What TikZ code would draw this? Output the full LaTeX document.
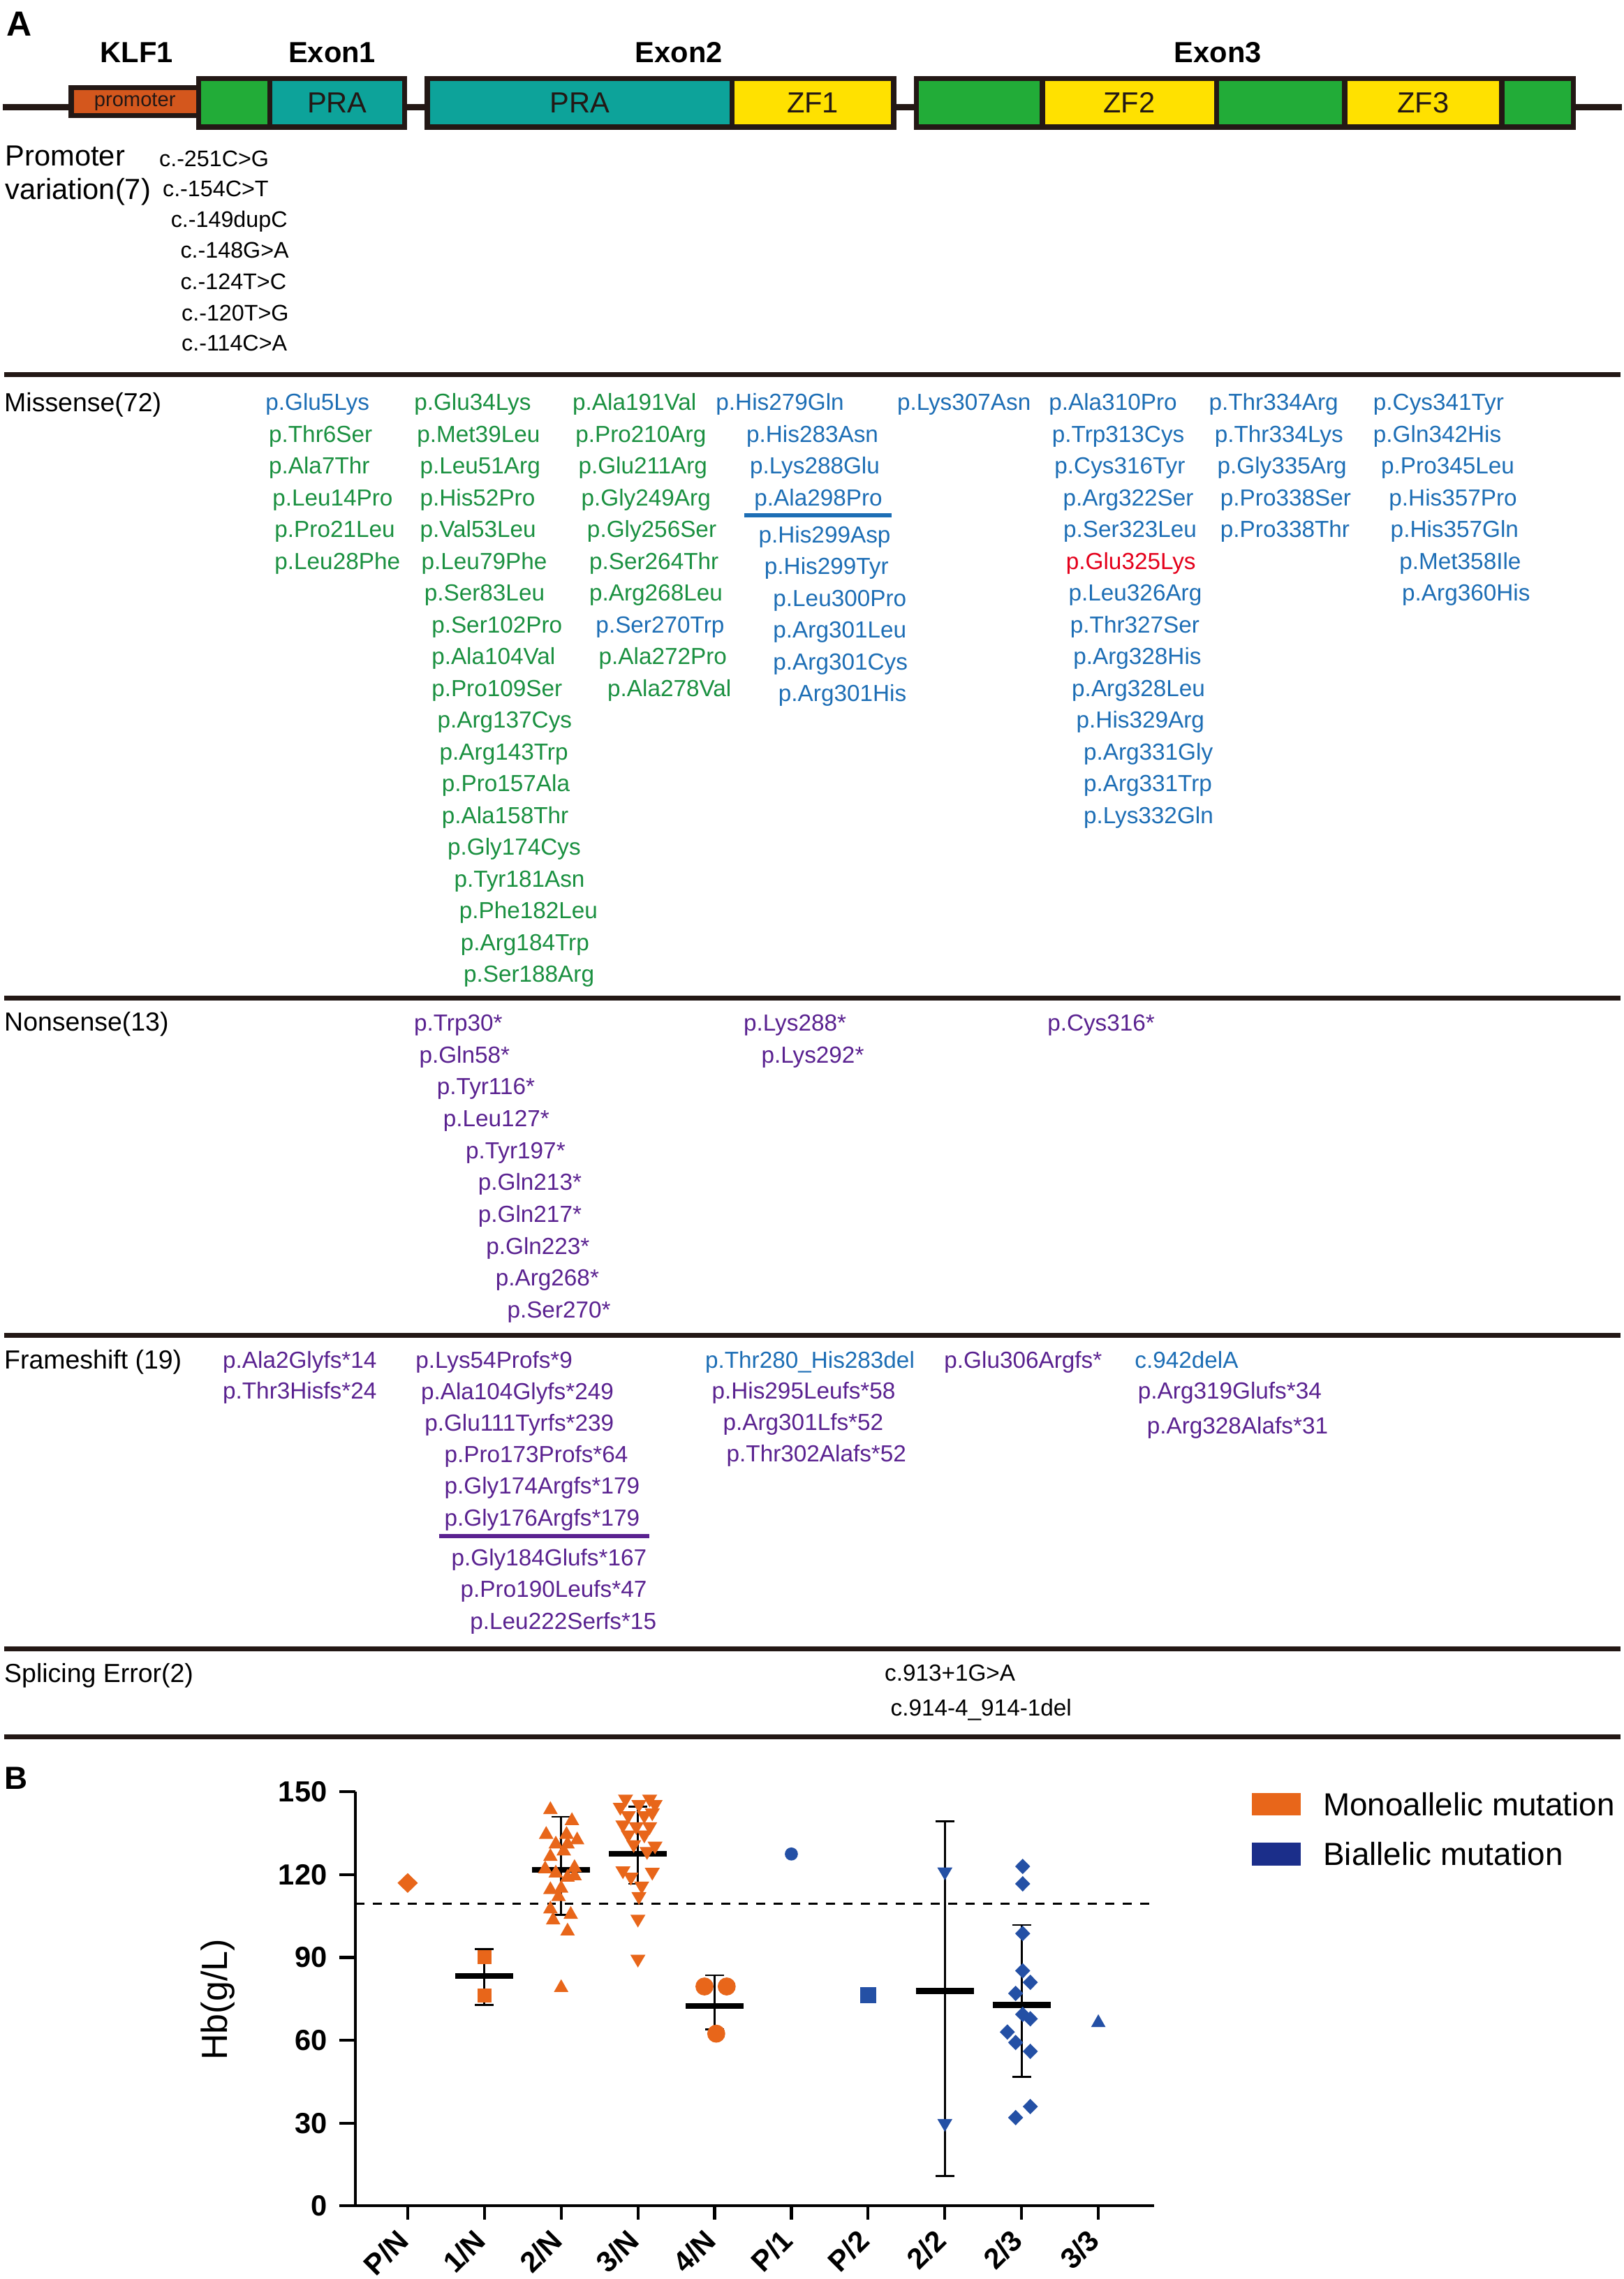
\documentclass[tikz,border=0pt]{standalone}
\usepackage{fontspec}
\setmainfont{Liberation Sans}
\usetikzlibrary{positioning}

\definecolor{kdark}{HTML}{231815}
\definecolor{kprom}{HTML}{D4571D}
\definecolor{kgreen}{HTML}{22AC38}
\definecolor{kteal}{HTML}{0DA39A}
\definecolor{kyellow}{HTML}{FFE100}
\definecolor{mblue}{HTML}{1D6EB5}
\definecolor{mgreen}{HTML}{1A9040}
\definecolor{mpurple}{HTML}{5A2290}
\definecolor{mred}{HTML}{E4001B}
\definecolor{mono}{HTML}{E8661A}
\definecolor{bial}{HTML}{1B2E8A}
\definecolor{bidot}{HTML}{2450A5}

\tikzset{
  triup/.pic  = {\fill (-5pt,-3.8pt) -- (5pt,-3.8pt) -- (0pt,5pt) -- cycle;},
  tridn/.pic  = {\fill (-5.2pt,3.8pt) -- (5.2pt,3.8pt) -- (0pt,-5pt) -- cycle;},
  dmd/.pic    = {\fill (0pt,5.3pt) -- (5.2pt,0pt) -- (0pt,-5.3pt) -- (-5.2pt,0pt) -- cycle;},
  bigdmd/.pic = {\fill (0pt,6.8pt) -- (7pt,0pt) -- (0pt,-6.8pt) -- (-7pt,0pt) -- cycle;},
  sq/.pic     = {\fill (-4.8pt,-4.8pt) rectangle (4.8pt,4.8pt);},
  bigsq/.pic  = {\fill (-5.6pt,-5.6pt) rectangle (5.6pt,5.6pt);},
  dot/.pic    = {\fill (0pt,0pt) circle (6.2pt);},
  smalldot/.pic = {\fill (0pt,0pt) circle (4.5pt);}
}

\begin{document}
\begin{tikzpicture}[x=1pt, y=-1pt,
  every node/.style = {inner sep=0pt, outer sep=0pt},
  mut/.style    = {anchor=base west, font=\fontsize{16}{19}\selectfont},
  cvar/.style   = {anchor=base west, font=\fontsize{15.5}{18}\selectfont},
  cat/.style    = {anchor=base west, font=\fontsize{18}{21}\selectfont},
  head/.style   = {anchor=base, font=\fontsize{20}{24}\selectfont\bfseries},
  panel/.style  = {anchor=base west, font=\fontsize{24}{28}\selectfont\bfseries},
  dom/.style    = {draw=kdark, line width=3.6pt, minimum height=33.3pt,
                   font=\fontsize{20}{24}\selectfont, text=kdark},
  rowline/.style = {draw=kdark, line width=3.4pt},
  ul/.style     = {line width=3.2pt},
  axis/.style   = {draw=black, line width=2pt},
  ytick/.style  = {anchor=east, font=\fontsize{20}{24}\selectfont\bfseries},
  xtick/.style  = {anchor=east, rotate=45, font=\fontsize{20}{24}\selectfont\bfseries},
  errbar/.style = {draw=black, line width=1.3pt},
  meanbar/.style = {draw=black, line width=4pt},
  refline/.style = {draw=black, line width=1.3pt, dash pattern=on 6.2pt off 5.8pt},
  lgbox/.style  = {minimum width=33.6pt, minimum height=15.5pt},
  lgtxt/.style  = {font=\fontsize{22}{26}\selectfont}
                    ]
\useasboundingbox (0,0) rectangle (1117,1568);

% ---- A: gene
\node[panel] (pA) at (4.4,24.7) {A};
\coordinate (bbL) at (1.8,73.7);
\coordinate (bbR) at (1116,73.7);
\draw[draw=kdark, line width=4pt] (bbL) -- (bbR);

\node[dom, fill=kprom, minimum width=87.8pt, minimum height=19.1pt,
      font=\fontsize{14}{16}\selectfont] (prom) at (92.8,69.95) {promoter};
\node[dom, fill=kgreen, minimum width=48.9pt] (e1g) at (161.15,70.75) {};
\node[dom, fill=kteal, minimum width=92.7pt, right=0pt of e1g] (e1p) {PRA};
\node[dom, fill=kteal, minimum width=209.6pt] (e2p) at (398.8,70.75) {PRA};
\node[dom, fill=kyellow, minimum width=111.2pt, right=0pt of e2p] (e2z) {ZF1};
\node[dom, fill=kgreen, minimum width=86.5pt] (e3g1) at (673.85,70.75) {};
\node[dom, fill=kyellow, minimum width=119.9pt, right=0pt of e3g1] (e3z2) {ZF2};
\node[dom, fill=kgreen, minimum width=88.2pt, right=0pt of e3z2] (e3g2) {};
\node[dom, fill=kyellow, minimum width=108.1pt, right=0pt of e3g2] (e3z3) {ZF3};
\node[dom, fill=kgreen, minimum width=49.3pt, right=0pt of e3z3] (e3g3) {};

\node[head] (klf) at (94,43) {KLF1};
\node[head] (ex1) at (228.5,43) {Exon1};
\node[head] (ex2) at (467,43) {Exon2};
\node[head] (ex3) at (838,43) {Exon3};

% promoter variation
\node[anchor=base west, font=\fontsize{20}{23}\selectfont] (pv1) at (3.7,114) {Promoter};
\node[anchor=base west, font=\fontsize{20}{23}\selectfont] (pv2) at (3.7,137) {variation(7)};
\foreach \x/\y/\t [count=\i] in {109.6/114.4/c.-251C>G, 112/135.4/c.-154C>T,
    117.6/156.2/c.-149dupC, 124.2/177.7/c.-148G>A, 124.2/199.2/c.-124T>C,
    125/220.7/c.-120T>G, 125/241.4/c.-114C>A}
  \node[cvar] (pvar-\i) at (\x,\y) {\t};

\draw[rowline] (3,257.8) -- (1115,257.8);

% missense
\node[cat] (mis) at (3,283.4) {Missense(72)};
\foreach \x/\t/\c [count=\i] in {182.7/p.Glu5Lys/mblue, 185/p.Thr6Ser/mgreen,
    185/p.Ala7Thr/mgreen, 187.5/p.Leu14Pro/mgreen, 189/p.Pro21Leu/mgreen,
    189/p.Leu28Phe/mgreen}
  \node[mut, text=\c] (ms1-\i) at (\x,{282.4+(\i-1)*21.85}) {\t};
\foreach \x/\t [count=\i] in {285/p.Glu34Lys, 287/p.Met39Leu, 289/p.Leu51Arg,
    289/p.His52Pro, 289/p.Val53Leu, 290/p.Leu79Phe, 292/p.Ser83Leu,
    297/p.Ser102Pro, 297/p.Ala104Val, 297/p.Pro109Ser, 301/p.Arg137Cys,
    302.5/p.Arg143Trp, 304/p.Pro157Ala, 304/p.Ala158Thr, 308/p.Gly174Cys,
    312.5/p.Tyr181Asn, 316/p.Phe182Leu, 317/p.Arg184Trp, 319/p.Ser188Arg}
  \node[mut, text=mgreen] (ms2-\i) at (\x,{282.4+(\i-1)*21.85}) {\t};
\foreach \x/\t/\c [count=\i] in {394/p.Ala191Val/mgreen, 396/p.Pro210Arg/mgreen,
    398/p.Glu211Arg/mgreen, 400/p.Gly249Arg/mgreen, 404/p.Gly256Ser/mgreen,
    405.5/p.Ser264Thr/mgreen, 405.5/p.Arg268Leu/mgreen, 410/p.Ser270Trp/mblue,
    412/p.Ala272Pro/mgreen, 418/p.Ala278Val/mgreen}
  \node[mut, text=\c] (ms3-\i) at (\x,{282.4+(\i-1)*21.85}) {\t};
\foreach \x/\t [count=\i] in {492.6/p.His279Gln, 513.6/p.His283Asn,
    516/p.Lys288Glu, 519/p.Ala298Pro, 522/p.His299Asp, 526/p.His299Tyr,
    532/p.Leu300Pro, 532/p.Arg301Leu, 532/p.Arg301Cys, 535.6/p.Arg301His}
  \node[mut, text=mblue] (ms4-\i) at (\x,{282.4+(\i-1)*21.85+(\i>4)*3.5}) {\t};
\draw[ul, mblue] (512,354.6) -- (613.6,354.6);
\node[mut, text=mblue] (ms5-1) at (617.3,282.4) {p.Lys307Asn};
\foreach \x/\t/\c [count=\i] in {721.7/p.Ala310Pro/mblue, 723.9/p.Trp313Cys/mblue,
    725.6/p.Cys316Tyr/mblue, 731.4/p.Arg322Ser/mblue, 731.7/p.Ser323Leu/mblue,
    733.5/p.Glu325Lys/mred, 735.3/p.Leu326Arg/mblue, 736.4/p.Thr327Ser/mblue,
    738.5/p.Arg328His/mblue, 737.5/p.Arg328Leu/mblue, 740.6/p.His329Arg/mblue,
    745.6/p.Arg331Gly/mblue, 745.6/p.Arg331Trp/mblue, 745.6/p.Lys332Gln/mblue}
  \node[mut, text=\c] (ms6-\i) at (\x,{282.4+(\i-1)*21.85}) {\t};
\foreach \x/\t [count=\i] in {831.8/p.Thr334Arg, 835.8/p.Thr334Lys,
    837.6/p.Gly335Arg, 839.7/p.Pro338Ser, 839.7/p.Pro338Thr}
  \node[mut, text=mblue] (ms7-\i) at (\x,{282.4+(\i-1)*21.85}) {\t};
\foreach \x/\t [count=\i] in {944.9/p.Cys341Tyr, 944.9/p.Gln342His,
    950.3/p.Pro345Leu, 955.7/p.His357Pro, 956.8/p.His357Gln,
    962.9/p.Met358Ile, 964.7/p.Arg360His}
  \node[mut, text=mblue] (ms8-\i) at (\x,{282.4+(\i-1)*21.85}) {\t};

\draw[rowline] (3,686.8) -- (1115,686.8);

% nonsense
\node[cat] (non) at (3,709.3) {Nonsense(13)};
\foreach \x/\t [count=\i] in {284.9/p.Trp30*, 288.5/p.Gln58*, 300.7/p.Tyr116*,
    305/p.Leu127*, 320.5/p.Tyr197*, 329/p.Gln213*, 329/p.Gln217*,
    334.5/p.Gln223*, 341/p.Arg268*, 349/p.Ser270*}
  \node[mut, text=mpurple] (ns1-\i) at (\x,{709.3+(\i-1)*21.93}) {\t};
\node[mut, text=mpurple] (ns2-1) at (511.7,709.3) {p.Lys288*};
\node[mut, text=mpurple] (ns2-2) at (523.9,731.2) {p.Lys292*};
\node[mut, text=mpurple] (ns3-1) at (720.7,709.3) {p.Cys316*};

\draw[rowline] (3,918.6) -- (1115,918.6);

% frameshift
\node[cat] (fra) at (3,942) {Frameshift (19)};
\node[mut, text=mpurple] (fs1-1) at (153.3,941.2) {p.Ala2Glyfs*14};
\node[mut, text=mpurple] (fs1-2) at (153.3,962.4) {p.Thr3Hisfs*24};
\foreach \x/\t [count=\i] in {286/p.Lys54Profs*9, 289.7/p.Ala104Glyfs*249,
    292.2/p.Glu111Tyrfs*239, 305.8/p.Pro173Profs*64, 305.8/p.Gly174Argfs*179,
    305.8/p.Gly176Argfs*179, 310.6/p.Gly184Glufs*167, 316.9/p.Pro190Leufs*47,
    323.5/p.Leu222Serfs*15}
  \node[mut, text=mpurple] (fs2-\i) at (\x,{941.2+(\i-1)*21.7+(\i>6)*6}) {\t};
\draw[ul, mpurple] (302,1056.8) -- (446.6,1056.8);
\foreach \x/\y/\t/\c [count=\i] in {485.2/941.2/p.Thr280\_His283del/mblue,
    489.8/962.4/p.His295Leufs*58/mpurple, 497.5/984.3/p.Arg301Lfs*52/mpurple,
    499.9/1005.9/p.Thr302Alafs*52/mpurple}
  \node[mut, text=\c] (fs3-\i) at (\x,\y) {\t};
\node[mut, text=mpurple] (fs4-1) at (649.7,941.2) {p.Glu306Argfs*};
\node[mut, text=mblue] (fs5-1) at (780.8,941.2) {c.942delA};
\node[mut, text=mpurple] (fs5-2) at (783,962.4) {p.Arg319Glufs*34};
\node[mut, text=mpurple] (fs5-3) at (789.2,986.7) {p.Arg328Alafs*31};

\draw[rowline] (3,1134.3) -- (1115,1134.3);

% splicing
\node[cat] (spl) at (3,1157.4) {Splicing Error(2)};
\node[mut] (sp-1) at (608.7,1156.7) {c.913+1G>A};
\node[mut] (sp-2) at (612.8,1180.4) {c.914-4\_914-1del};

\draw[rowline] (3,1195) -- (1115,1195);

% ---- B: Hb plot
\node[panel, font=\fontsize{22}{26}\selectfont\bfseries] (pB) at (3,1231) {B};
\node[rotate=90, font=\fontsize{25}{30}\selectfont] (hb) at (149.8,1375.8) {Hb(g/L)};

\begin{scope}[shift={(0,1517.7)}, y=1.899pt]
  \draw[axis] (244.4,150) -- (244.4,0);
  \draw[axis] (233.4,0) -- (794,0);
  \foreach \v in {0,30,...,150} {
    \draw[axis] (233.4,\v) -- (244.4,\v);
    \node[ytick] (yt-\v) at (225,\v) {\v};
  }
  \foreach \lab [count=\i from 0] in {P/N,1/N,2/N,3/N,4/N,P/1,P/2,2/2,2/3,3/3} {
    \draw[axis] ({280.5+52.8*\i},0) -- ({280.5+52.8*\i},-5);
    \node[xtick] (xt-\i) at ({280.5+52.8*\i-3},-10.7) {\lab};
  }
  \draw[refline] (244.4,109.5) -- (793,109.5);

  % error bars and means
  \foreach \c/\m/\lo/\hi in {333.3/83.3/72.8/93.1, 386.1/121.8/105.4/141,
      438.9/127.5/116.7/144.6, 491.7/72.5/63.9/83.6,
      650.1/77.9/10.8/139.3, 702.9/72.8/46.8/101.8} {
    \draw[errbar] ({\c-6.5},\lo) -- ({\c+6.5},\lo) (\c,\lo) -- (\c,\hi)
                  ({\c-6.5},\hi) -- ({\c+6.5},\hi);
    \draw[meanbar] ({\c-20},\m) -- ({\c+20},\m);
  }

  % monoallelic
  \pic[mono] at (280.5,117) {bigdmd};
  \foreach \v in {90.2,76.3}
    \pic[mono] at (333.3,\v) {sq};
  \foreach \dx/\v in {-7.4/144, 7.4/140, -10.3/135, 3.7/135, 11/133,
      -3.7/131.5, 4.4/131.5, -7.4/127, 1.8/129, -11/122.5, 9.2/123,
      -3.7/121, 4.4/119.5, 9.2/120, -7.4/115, 0/115.5, -1.8/112.5,
      -7.4/108, 6.6/106, -5.5/104, 4.4/100, 0/79.5}
    \pic[mono] at ({386.1+\dx},\v) {triup};
  \foreach \dx/\v in {-8.5/147, 8.1/147, -12.1/144, 0.7/145, 11.8/145,
      -6.6/141, 4.4/141, 9.9/142, -10.3/137.6, -1.1/137, 8.1/137,
      -6.6/134, 4.4/134, 11.8/130, -2.9/130.5, 6.3/128, -10.3/121,
      9.9/120.5, -4.8/118.7, 2.6/115.5, 0.7/111.7, 0/103.5, 0/89}
    \pic[mono] at ({438.9+\dx},\v) {tridn};
  \foreach \dx/\v in {-7/79.5, 8.3/79.5, 1.1/62.4}
    \pic[mono] at ({491.7+\dx},\v) {dot};

  % biallelic
  \pic[bidot] at (544.5,127.5) {smalldot};
  \pic[bidot] at (597.3,76.3) {bigsq};
  \foreach \v in {120.6,29.5}
    \pic[bidot] at (650.1,\v) {tridn};
  \foreach \dx/\v in {0.75/123, 0.75/116.7, 0.75/98.7, 0.75/85.2, 6/81,
      -4.1/77, 0.75/69.4, 6/67.8, -9.8/63, -4.1/59.2, 6/56, 6/36, -4.1/32}
    \pic[bidot] at ({702.9+\dx},\v) {dmd};
  \pic[bidot] at (755.7,66.8) {triup};
\end{scope}

% legend
\node[lgbox, fill=mono] (lgmono) at (878.2,1241.2) {};
\node[lgtxt, right=15.5pt of lgmono] (lgmonot) {Monoallelic mutation};
\node[lgbox, fill=bial] (lgbi) at (878.2,1275.7) {};
\node[lgtxt, right=15.5pt of lgbi] (lgbit) {Biallelic mutation};
\end{tikzpicture}
\end{document}
